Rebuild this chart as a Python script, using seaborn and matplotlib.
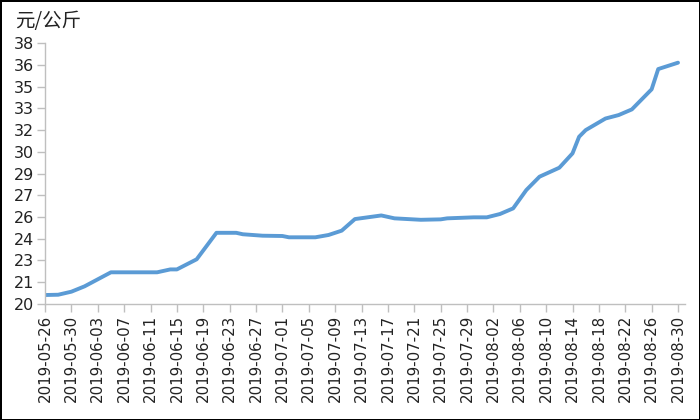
import pandas as pd
import matplotlib
matplotlib.use("Agg")
import matplotlib.pyplot as plt
import matplotlib.dates as mdates
import seaborn as sns

# Price readings (vertices of the curve)
dates = ["2019-05-26", "2019-05-28", "2019-05-30", "2019-06-01", "2019-06-05",
         "2019-06-12", "2019-06-14", "2019-06-15", "2019-06-18", "2019-06-21",
         "2019-06-24", "2019-06-25", "2019-06-28", "2019-07-01", "2019-07-02",
         "2019-07-06", "2019-07-08", "2019-07-10", "2019-07-12", "2019-07-16",
         "2019-07-18", "2019-07-22", "2019-07-25", "2019-07-26", "2019-07-30",
         "2019-08-01", "2019-08-03", "2019-08-05", "2019-08-07", "2019-08-09",
         "2019-08-12", "2019-08-14", "2019-08-15", "2019-08-16", "2019-08-19",
         "2019-08-21", "2019-08-23", "2019-08-26", "2019-08-27", "2019-08-30"]
prices = [20.6, 20.62, 20.83, 21.2, 22.17,
          22.17, 22.37, 22.37, 23.07, 24.9,
          24.9, 24.8, 24.7, 24.68, 24.59,
          24.59, 24.75, 25.05, 25.85, 26.1,
          25.9, 25.8, 25.83, 25.9, 25.97,
          25.97, 26.2, 26.59, 27.86, 28.78,
          29.4, 30.39, 31.54, 32.0, 32.8,
          33.04, 33.43, 34.82, 36.22, 36.66]

y_ticks = [20, 21.5, 23, 24.5, 26, 27.5, 29, 30.5, 32, 33.5, 35, 36.5, 38]
y_labels = ["20", "21", "23", "24", "26", "27", "29", "30", "32", "33", "35", "36", "38"]
x_ticks = pd.date_range("2019-05-26", "2019-08-30", freq="4D")

df = pd.DataFrame({"date": pd.to_datetime(dates), "price": prices})

sns.set_style("white")
plt.rcParams["font.family"] = ["DejaVu Sans", "Noto Sans CJK SC"]

fig = plt.figure(figsize=(7, 4.2), dpi=100)
fig.patch.set_edgecolor("black")
fig.patch.set_linewidth(2)
ax = fig.add_axes([45 / 700, 116.3 / 420, 639.6 / 700, 260.4 / 420])

sns.lineplot(data=df, x="date", y="price", ax=ax, color="#5B9BD5", linewidth=2.8,
             solid_capstyle="round")

ax.set_xlim(pd.Timestamp("2019-05-26"), pd.Timestamp("2019-08-31"))
ax.set_ylim(20, 38)
ax.set_yticks(y_ticks)
ax.set_yticklabels(y_labels, fontsize=11.5, color="#222222")
ax.set_xticks(x_ticks)
ax.xaxis.set_major_formatter(mdates.DateFormatter("%Y-%m-%d"))
plt.setp(ax.get_xticklabels(), rotation=90, fontsize=10.8, color="#222222")
ax.set_xlabel("")
ax.set_ylabel("")

for side in ["top", "right"]:
    ax.spines[side].set_visible(False)
for side in ["left", "bottom"]:
    ax.spines[side].set_color("#BFBFBF")
    ax.spines[side].set_linewidth(1)
ax.tick_params(axis="both", which="major", direction="out", length=6,
               width=1, color="#BFBFBF", pad=2, left=True, bottom=True)

fig.text(15 / 700, 1 - 22 / 420, "元/公斤", fontsize=14, va="center", ha="left",
         family=["Noto Sans CJK SC", "DejaVu Sans"], color="#222222")

fig.savefig("out.png", dpi=100)
